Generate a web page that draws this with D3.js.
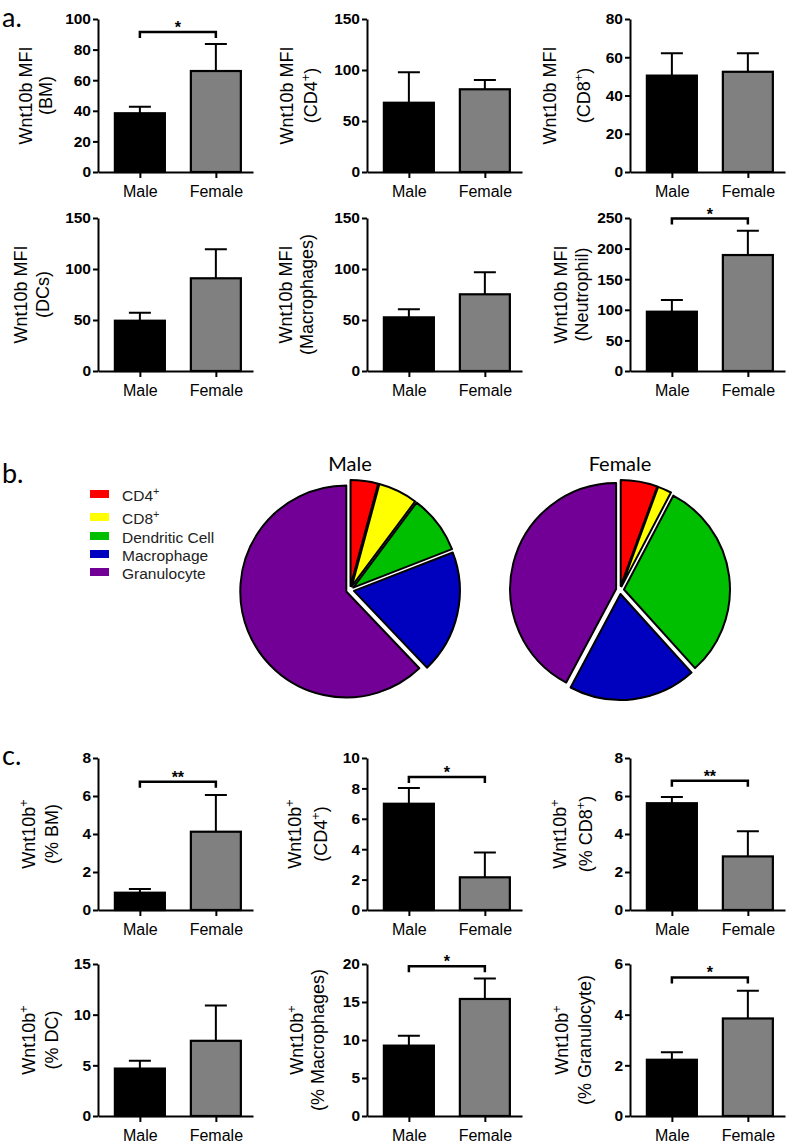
<!DOCTYPE html>
<html>
<head>
<meta charset="utf-8">
<script src="https://cdn.jsdelivr.net/npm/d3@7/dist/d3.min.js"></script>
<style>
  body { margin: 0; background: #fff; }
  svg { display: block; }
</style>
</head>
<body>
<script>
// Groups on the x axis of every bar panel
var groups = ["Male", "Female"];

// Panel a: Wnt10b MFI, means and SEM (Male, Female)
var aLabels = [["Wnt10b MFI", "(BM)"], ["Wnt10b MFI", "(CD4^+)"], ["Wnt10b MFI", "(CD8^+)"],
               ["Wnt10b MFI", "(DCs)"], ["Wnt10b MFI", "(Macrophages)"], ["Wnt10b MFI", "(Neutrophil)"]];
var aMeans = [[38.4, 66], [67.9, 81.1], [50.4, 52.4], [49.3, 90.9], [52.6, 75.2], [96.9, 189.5]];
var aSem = [[4.3, 17.7], [29.8, 9.1], [11.7, 9.7], [7.9, 28.4], [7.9, 21.6], [19.1, 39.7]];
var aMax = [100, 150, 80, 150, 150, 250];
var aStep = [20, 50, 20, 50, 50, 50];
var aSig = [{ at: 91.5, mark: "*" }, null, null, null, null, { at: 249, mark: "*" }];

// Panel c: Wnt10b+ percentages, means and SEM (Male, Female)
var cLabels = [["Wnt10b^+", "(% BM)"], ["Wnt10b^+", "(CD4^+)"], ["Wnt10b^+", "(% CD8^+)"],
               ["Wnt10b^+", "(% DC)"], ["Wnt10b^+", "(% Macrophages)"], ["Wnt10b^+", "(% Granulocyte)"]];
var cMeans = [[0.91, 4.12], [6.99, 2.15], [5.62, 2.82], [4.68, 7.42], [9.26, 15.4], [2.22, 3.85]];
var cSem = [[0.19, 1.93], [1.03, 1.63], [0.33, 1.33], [0.76, 3.48], [1.3, 2.7], [0.3, 1.09]];
var cMax = [8, 10, 8, 15, 20, 6];
var cStep = [2, 2, 2, 5, 5, 2];
var cSig = [{ at: 6.75, mark: "**" }, { at: 8.75, mark: "*" }, { at: 6.8, mark: "**" },
            null, { at: 19.7, mark: "*" }, { at: 5.47, mark: "*" }];

// Panel b: cell type share (%) of Wnt10b+ cells
var cellTypes = ["CD4^+", "CD8^+", "Dendritic Cell", "Macrophage", "Granulocyte"];
var cellColors = ["#ff0000", "#ffff00", "#00bf00", "#0000bf", "#730096"];
var malePie = [4.2, 6.0, 8.9, 18.8, 62.1];
var femalePie = [5.6, 2.1, 30.6, 19.5, 42.2];

// layout
var colX = [98, 367, 630];
var rowTop = [19, 218, 758, 964];
var rowBottom = [172, 371, 910, 1116];
var aLabelOff = [[-66, -46], [-74, -50], [-74, -40], [-71, -49], [-75, -54], [-63, -42]];
var cLabelOff = [[-63, -40], [-66, -40], [-64, -38], [-63, -40], [-64, -43], [-62, -39]];

var arialFont = "'Liberation Sans', Arial, sans-serif";
var calibriFont = "Lato, 'Open Sans', sans-serif";

var svg = d3.select("body").append("svg")
  .attr("width", 788)
  .attr("height", 1143);

// text with "^x" meaning superscript x
function richText(sel, str, size) {
  var parts = str.split(/\^(.)/);
  parts.forEach(function(p, i) {
    if (p === "") return;
    if (i % 2 === 1) {
      sel.append("tspan").attr("dy", -size * 0.4).attr("font-size", size * 0.7).text(p);
    } else {
      var t = sel.append("tspan").text(p);
      if (i > 0) t.attr("dy", size * 0.4);
    }
  });
}

function drawBars(row, col, label, labelOff, means, sem, yMax, step, sig) {
  var x0 = colX[col], top = rowTop[row], bottom = rowBottom[row];
  var y = d3.scaleLinear().domain([0, yMax]).range([bottom, top]);
  var x = d3.scalePoint().domain(groups).range([x0, x0 + 155]).padding(0.52).align(0.53);

  var g = svg.append("g");

  var yAxis = g.append("g")
    .attr("transform", `translate(${x0},0)`)
    .call(d3.axisLeft(y)
      .tickValues(d3.range(0, yMax + step / 2, step))
      .tickFormat(d3.format("d"))
      .tickSize(5).tickPadding(2).tickSizeOuter(0));
  yAxis.selectAll("text")
    .style("font-size", "15.5px")
    .style("font-weight", "bold")
    .style("font-family", arialFont)
    .attr("fill", "#000");

  var xAxis = g.append("g")
    .attr("transform", `translate(0,${bottom})`)
    .call(d3.axisBottom(x).tickSize(6).tickPadding(7.6).tickSizeOuter(0));
  xAxis.selectAll("text")
    .style("font-size", "16px")
    .style("font-family", arialFont)
    .attr("fill", "#000");

  [yAxis, xAxis].forEach(function(a) {
    a.selectAll("path, line").attr("stroke", "#000").attr("stroke-width", 2);
  });

  var rows = groups.map(function(k, i) { return { key: k, mean: means[i], sem: sem[i] }; });

  // error bars (upper only)
  g.selectAll(".err").data(rows).enter().append("path")
    .attr("d", d => `M${x(d.key)},${y(d.mean)}V${y(d.mean + d.sem)}M${x(d.key) - 11},${y(d.mean + d.sem)}H${x(d.key) + 11}`)
    .attr("stroke", "#000")
    .attr("stroke-width", 2)
    .attr("fill", "none");

  g.selectAll(".bar").data(rows).enter().append("rect")
    .attr("x", d => x(d.key) - 25)
    .attr("y", d => y(d.mean))
    .attr("width", 50)
    .attr("height", d => bottom - y(d.mean))
    .attr("fill", (d, i) => i === 0 ? "#000" : "#808080")
    .attr("stroke", "#000")
    .attr("stroke-width", 2.2);

  if (sig) {
    g.append("path")
      .attr("d", `M${x("Male")},${y(sig.at) + 6}V${y(sig.at)}H${x("Female")}V${y(sig.at) + 6}`)
      .attr("stroke", "#000")
      .attr("stroke-width", 2.5)
      .attr("fill", "none");
    g.append("text")
      .attr("x", (x("Male") + x("Female")) / 2)
      .attr("y", y(sig.at) + 1)
      .attr("text-anchor", "middle")
      .style("font-family", arialFont)
      .style("font-weight", "bold")
      .style("font-size", "16px")
      .text(sig.mark);
  }

  // two-line rotated y title
  label.forEach(function(line, i) {
    var t = g.append("text")
      .attr("transform", `translate(${x0 + labelOff[i]},${(top + bottom) / 2}) rotate(-90)`)
      .attr("text-anchor", "middle")
      .style("font-family", arialFont)
      .style("font-size", "18px")
      .attr("fill", "#000");
    richText(t, line, 18);
  });
}

for (var i = 0; i < 6; i++) {
  drawBars(Math.floor(i / 3), i % 3, aLabels[i], aLabelOff[i], aMeans[i], aSem[i], aMax[i], aStep[i], aSig[i]);
  drawBars(2 + Math.floor(i / 3), i % 3, cLabels[i], cLabelOff[i], cMeans[i], cSem[i], cMax[i], cStep[i], cSig[i]);
}

// panel letters
[["a.", 27], ["b.", 483], ["c.", 765]].forEach(function(p) {
  svg.append("text").attr("x", 2).attr("y", p[1])
    .style("font-family", calibriFont).style("font-size", "27px").text(p[0]);
});

// legend
var legendY = [501, 524, 543, 561, 579];
cellTypes.forEach(function(name, i) {
  svg.append("rect").attr("x", 90).attr("y", legendY[i] - 11).attr("width", 19).attr("height", 8)
    .attr("fill", cellColors[i]);
  var t = svg.append("text").attr("x", 122).attr("y", legendY[i])
    .style("font-family", arialFont).style("font-size", "15.5px").attr("fill", "#222");
  richText(t, name, 15.5);
});

// pies
var pie = d3.pie().sort(null).value(d => d);
var arc = d3.arc().innerRadius(0).outerRadius(106);
[{ title: "Male", values: malePie, cx: 350 }, { title: "Female", values: femalePie, cx: 620 }].forEach(function(p) {
  var cy = 590;
  var g = svg.append("g").attr("transform", `translate(${p.cx},${cy})`);
  g.selectAll("path").data(pie(p.values)).enter().append("path")
    .attr("d", arc)
    .attr("transform", function(d) {
      var a = (d.startAngle + d.endAngle) / 2;
      return `translate(${Math.sin(a) * 4},${-Math.cos(a) * 4})`;
    })
    .attr("fill", (d, i) => cellColors[i])
    .attr("stroke", "#000")
    .attr("stroke-width", 2)
    .attr("stroke-linejoin", "round");
  svg.append("text").attr("x", p.cx).attr("y", 471)
    .attr("text-anchor", "middle")
    .style("font-family", calibriFont).style("font-size", "20px").text(p.title);
});
</script>
</body>
</html>
